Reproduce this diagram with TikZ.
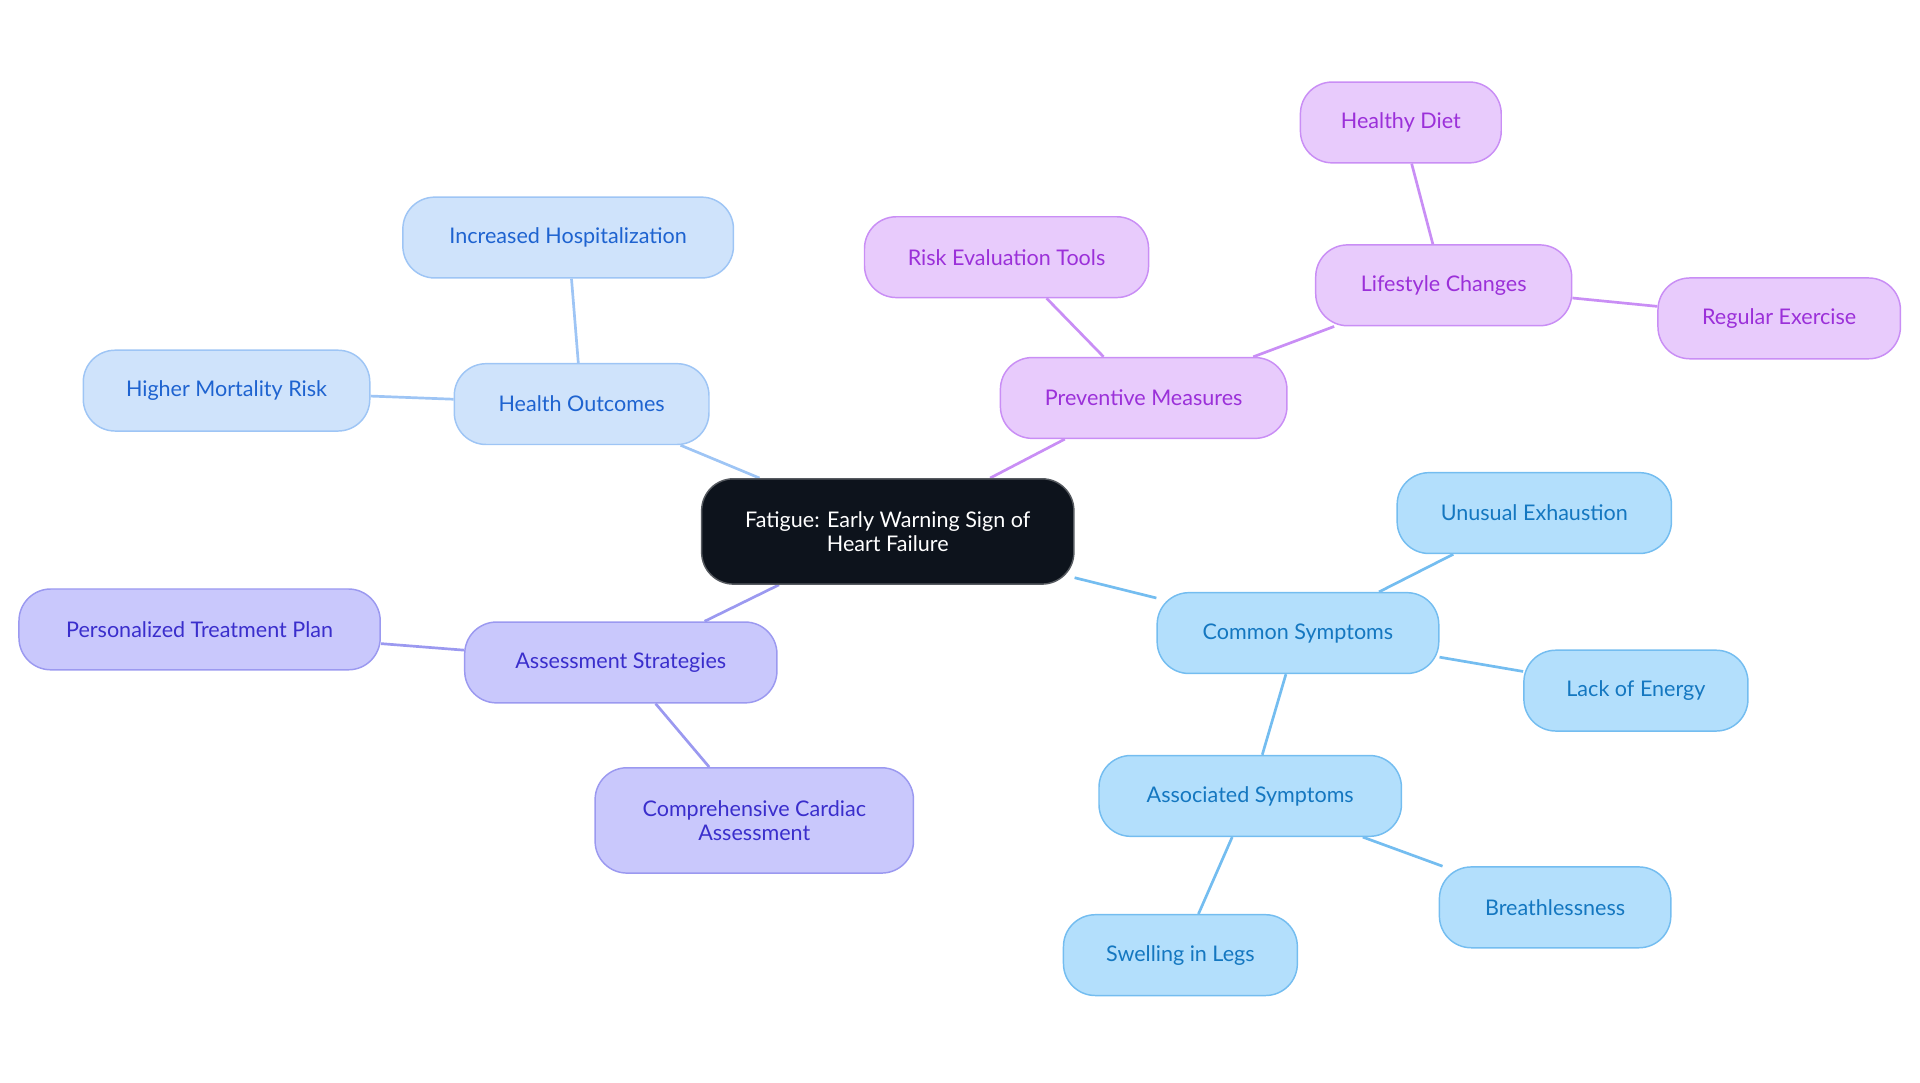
\documentclass[tikz,border=0pt]{standalone}
\usepackage{fontspec}
\setmainfont{Lato}
\usetikzlibrary{backgrounds}
\definecolor{cfillA}{HTML}{CFE3FB}\definecolor{cdrawA}{HTML}{9EC5F5}\definecolor{ctextA}{HTML}{1E63D0}
\definecolor{cfillP}{HTML}{E8CBFC}\definecolor{cdrawP}{HTML}{C98EF5}\definecolor{ctextP}{HTML}{9B30D9}
\definecolor{cfillS}{HTML}{B3DFFC}\definecolor{cdrawS}{HTML}{74BDF0}\definecolor{ctextS}{HTML}{1477C0}
\definecolor{cfillV}{HTML}{C9C8FC}\definecolor{cdrawV}{HTML}{9B99F0}\definecolor{ctextV}{HTML}{3A2ECC}
\definecolor{ccenter}{HTML}{0D131C}
\begin{document}
\begin{tikzpicture}[x=0.5pt,y=-0.5pt,
  box/.style={rounded corners=13pt,line width=0.6pt,minimum height=33pt,align=center,inner sep=0pt,font=\fontsize{8.8}{10}\selectfont},
  ho/.style={box,fill=cfillA,draw=cdrawA,text=ctextA},
  pm/.style={box,fill=cfillP,draw=cdrawP,text=ctextP},
  cs/.style={box,fill=cfillS,draw=cdrawS,text=ctextS},
  as/.style={box,fill=cfillV,draw=cdrawV,text=ctextV},
  eA/.style={draw=cdrawA,line width=1.1pt},
  eP/.style={draw=cdrawP,line width=1.1pt},
  eS/.style={draw=cdrawS,line width=1.1pt},
  eV/.style={draw=cdrawV,line width=1.1pt}]
\useasboundingbox (0,0) rectangle (1568,884);
\node[box,fill=ccenter,draw=ccenter!70,text=white,minimum width=152pt,minimum height=43pt] (c) at (725,434) {Fatigue: Early Warning Sign of\\Heart Failure};
\node[ho,minimum width=104pt] (ho) at (475,330) {Health Outcomes};
\node[ho,minimum width=135pt] (ih) at (464,194) {Increased Hospitalization};
\node[ho,minimum width=117pt] (hm) at (185,319) {Higher Mortality Risk};
\node[pm,minimum width=117pt] (pm) at (934,325) {Preventive Measures};
\node[pm,minimum width=116pt] (re) at (822,210) {Risk Evaluation Tools};
\node[pm,minimum width=104.5pt] (lc) at (1179,233) {Lifestyle Changes};
\node[pm,minimum width=82pt] (hd) at (1144,100) {Healthy Diet};
\node[pm,minimum width=99pt] (rx) at (1453,260) {Regular Exercise};
\node[cs,minimum width=115pt] (cs) at (1060,517) {Common Symptoms};
\node[cs,minimum width=112pt] (ue) at (1253,419) {Unusual Exhaustion};
\node[cs,minimum width=91.5pt] (le) at (1336,564) {Lack of Energy};
\node[cs,minimum width=123.5pt] (ass) at (1021,650) {Associated Symptoms};
\node[cs,minimum width=94.5pt] (br) at (1270,741) {Breathlessness};
\node[cs,minimum width=95.5pt] (sl) at (964,780) {Swelling in Legs};
\node[as,minimum width=127.5pt] (ast) at (507,541) {Assessment Strategies};
\node[as,minimum width=147.5pt] (pt) at (163,514) {Personalized Treatment Plan};
\node[as,minimum width=130pt,minimum height=43pt] (cc) at (616,670) {Comprehensive Cardiac\\Assessment};
\begin{scope}[on background layer]
\draw[eA] (c) -- (ho); \draw[eA] (ho) -- (ih); \draw[eA] (ho) -- (hm);
\draw[eP] (c) -- (pm); \draw[eP] (pm) -- (re); \draw[eP] (pm) -- (lc); \draw[eP] (lc) -- (hd); \draw[eP] (lc) -- (rx);
\draw[eS] (c) -- (cs); \draw[eS] (cs) -- (ue); \draw[eS] (cs) -- (le); \draw[eS] (cs) -- (ass); \draw[eS] (ass) -- (br); \draw[eS] (ass) -- (sl);
\draw[eV] (c) -- (ast); \draw[eV] (ast) -- (pt); \draw[eV] (ast) -- (cc);
\end{scope}
\end{tikzpicture}
\end{document}
